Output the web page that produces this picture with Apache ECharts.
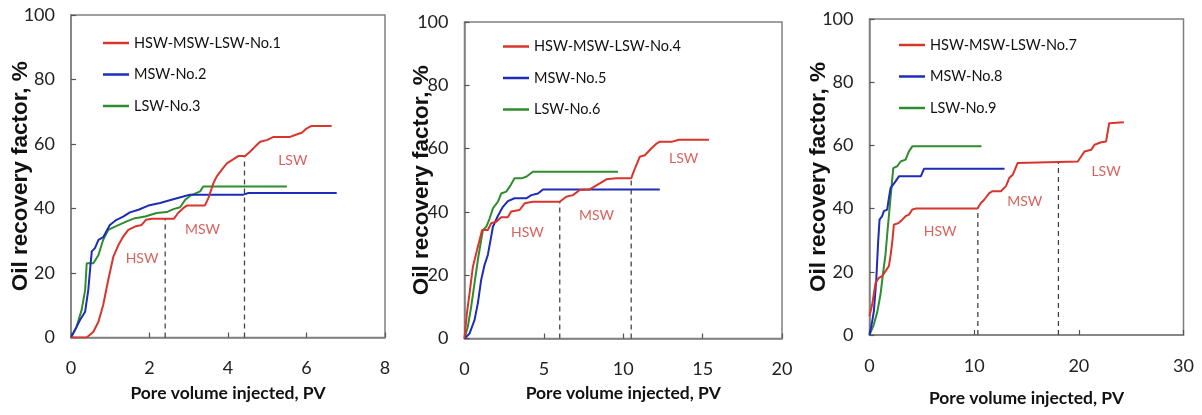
<!DOCTYPE html>
<html>
<head>
<meta charset="utf-8">
<script src="https://cdn.jsdelivr.net/npm/echarts@6/dist/echarts.min.js"></script>
<style>
  html, body { margin: 0; padding: 0; background: #fff; }
  #chart { width: 1202px; height: 415px; }
</style>
</head>
<body>
<div id="chart"></div>
<script>
// Oil recovery factor (%) vs pore volume injected (PV), three core-flood sets
const seriesNames = [
  ['HSW-MSW-LSW-No.1', 'MSW-No.2', 'LSW-No.3'],
  ['HSW-MSW-LSW-No.4', 'MSW-No.5', 'LSW-No.6'],
  ['HSW-MSW-LSW-No.7', 'MSW-No.8', 'LSW-No.9']
];

// [PV, recovery %]
const no1 = [[0,0],[0.4,0],[0.57,1.8],[0.7,4.9],[0.82,10.1],[0.95,17.9],[1.08,25.1],[1.21,28.7],[1.33,31.3],[1.46,33.4],[1.63,34.4],[1.8,34.9],[1.91,36.5],[2.06,36.8],[2.62,36.8],[2.73,38.6],[2.86,40.1],[2.95,40.9],[3.41,40.9],[3.5,43.2],[3.63,47.9],[3.71,49.9],[3.84,52],[3.97,54],[4.14,55.3],[4.27,56.3],[4.44,56.3],[4.56,57.6],[4.69,59.2],[4.82,60.7],[4.99,61.2],[5.16,62.2],[5.58,62.2],[5.71,62.8],[5.88,63.5],[6.0,64.8],[6.13,65.6],[6.64,65.6]];
const no2 = [[0,0],[0.1,2.3],[0.23,5.4],[0.36,8],[0.44,14.7],[0.5,23],[0.53,26.7],[0.61,27.7],[0.7,30.3],[0.82,31.1],[0.99,34.9],[1.16,36.5],[1.33,37.5],[1.5,38.8],[1.72,39.6],[1.97,40.9],[2.27,41.7],[2.56,42.7],[2.86,43.7],[3.03,44.3],[4.39,44.3],[4.52,44.8],[6.77,44.8]];
const no3 = [[0,0],[0.14,3.3],[0.27,8.5],[0.36,14.7],[0.4,23],[0.57,23],[0.7,25.6],[0.82,30.3],[0.95,33.4],[1.12,34.4],[1.42,36],[1.63,37],[1.89,37.5],[2.18,38.6],[2.44,38.9],[2.61,39.8],[2.78,40.4],[2.91,42.7],[3.03,43.9],[3.16,44.6],[3.29,45.3],[3.37,46.8],[5.5,46.8]];

const no4 = [[0,0],[0.15,7.9],[0.32,14.3],[0.53,22.7],[0.84,29],[1.11,34.3],[1.47,34.3],[1.68,36.4],[2.0,36.9],[2.31,38.3],[2.73,38.3],[2.94,40.1],[3.47,40.6],[3.79,42.7],[4.31,43.2],[6.0,43.2],[6.41,44.8],[6.83,45.3],[7.26,46.9],[7.89,47.1],[8.52,49],[8.94,50.3],[9.57,50.6],[10.5,50.6],[10.73,53.7],[11.04,57.4],[11.36,57.9],[11.78,60.1],[12.1,61.6],[12.3,62.2],[13.1,62.2],[13.5,62.8],[15.4,62.8]];
const no5 = [[0,0],[0.32,1.6],[0.63,5.8],[0.84,11.1],[1.05,18.5],[1.26,23.2],[1.47,26.4],[1.68,32.2],[1.79,35.3],[2.1,38.7],[2.42,41.6],[2.73,43.4],[3.15,44.3],[3.89,44.3],[4.21,45.3],[4.63,45.8],[4.94,47.1],[12.3,47.1]];
const no6 = [[0,0],[0.21,3.7],[0.42,10],[0.63,17.4],[0.84,24.8],[1.05,31.1],[1.16,34.3],[1.37,35.3],[1.58,37.9],[1.79,41.1],[2.1,43.2],[2.31,45.8],[2.63,46.4],[2.84,47.9],[3.15,50.6],[3.57,50.6],[3.89,51.1],[4.31,52.7],[9.67,52.7]];

const no7 = [[0,6],[0.26,9.7],[0.58,16.5],[0.89,18.1],[1.21,18.6],[1.53,20.2],[1.85,21.8],[2.0,24.9],[2.17,29.2],[2.33,34.9],[2.81,35.5],[3.13,36.5],[3.45,37.6],[3.77,38.1],[4.09,39.7],[4.41,40],[10.32,40],[10.64,41.8],[10.96,42.8],[11.44,44.9],[11.76,45.5],[12.56,45.5],[13.04,47.1],[13.36,49.7],[13.68,50.7],[14.15,54.4],[14.31,54.9],[19.9,54.9],[20.22,56.5],[20.55,58.1],[21.18,58.6],[21.5,60.2],[22.14,61],[22.6,61.2],[22.9,67],[24.3,67.3]];
const no8 = [[0,0],[0.26,4.4],[0.42,7.6],[0.64,17.1],[0.83,29.7],[0.96,36.5],[1.21,37.6],[1.37,39.2],[1.69,39.7],[1.79,42],[2.01,46.5],[2.17,47],[2.49,48.6],[2.81,50.2],[4.9,50.2],[5.21,52.6],[12.9,52.6]];
const no9 = [[0,0],[0.42,3.4],[0.73,7.1],[1.05,12.8],[1.28,19.2],[1.53,25.5],[1.69,31.8],[1.92,40.2],[2.11,47.1],[2.27,52.8],[2.65,53.4],[2.97,54.9],[3.45,55.5],[3.77,58.1],[4.09,59.7],[10.7,59.7]];

const panelData = [[no1, no2, no3], [no4, no5, no6], [no7, no8, no9]];

// Brine switch points (PV, recovery reached at the switch)
const switches = [
  [[2.4, 36.8], [4.42, 56.3]],
  [[6.0, 43.2], [10.5, 50.6]],
  [[10.35, 40], [18.05, 54.9]]
];

// Injection stage annotations
const stageNames = ['HSW', 'MSW', 'LSW'];
const stageSpots = [
  [[1.81, 24.5], [3.35, 33.4], [5.65, 55]],
  [[3.96, 33.4], [8.32, 39], [13.8, 56.9]],
  [[6.75, 32.7], [14.84, 42.4], [22.6, 51.8]]
];

// Axis ranges
const xMax = [8, 20, 30];
const xStep = [2, 5, 10];
const yMax = 100;
const yStep = 20;
const xTitle = 'Pore volume injected, PV';
const yTitle = 'Oil recovery factor, %';

const lineColors = ['#d8352c', '#1e2db8', '#2f8c2f'];
const stageColor = '#cf3a35';
const narrow = "Lato, 'Liberation Sans', sans-serif";
const boxColor = '#808080';

const grids = [
  { left: 71, top: 15, width: 314, height: 322.5 },
  { left: 464.5, top: 22, width: 317.5, height: 316.5 },
  { left: 869.5, top: 19, width: 314, height: 316 }
];
const xNameGap = [47, 46, 54];
const yNameGap = [39, 31, 39];
const legendPos = [
  { left: 103, top: 34 },
  { left: 503, top: 37.5 },
  { left: 899, top: 36 }
];

const option = {
  animation: false,
  backgroundColor: '#fff',
  grid: grids.map(g => Object.assign({ show: true, borderColor: boxColor, borderWidth: 1.5, backgroundColor: 'transparent' }, g)),
  xAxis: grids.map((g, i) => ({
    type: 'value', gridIndex: i, min: 0, max: xMax[i], interval: xStep[i],
    axisLine: { show: true, lineStyle: { color: boxColor, width: 1.5 } },
    axisTick: { show: true, inside: true, length: 5, lineStyle: { color: '#555', width: 1.2 } },
    splitLine: { show: false },
    axisLabel: { fontFamily: narrow, fontSize: 18, color: '#222', margin: 22 },
    name: xTitle, nameLocation: 'middle', nameGap: xNameGap[i], nameMoveOverlap: false,
    nameTextStyle: { fontFamily: narrow, fontSize: 17.5, fontWeight: 'bold', color: '#111' }
  })),
  yAxis: grids.map((g, i) => ({
    type: 'value', gridIndex: i, min: 0, max: yMax, interval: yStep,
    axisLine: { show: true, lineStyle: { color: boxColor, width: 1.5 } },
    axisTick: { show: true, inside: true, length: 5, lineStyle: { color: '#555', width: 1.2 } },
    splitLine: { show: false },
    axisLabel: { fontFamily: narrow, fontSize: 18, color: '#222', margin: 16 },
    name: yTitle, nameLocation: 'middle', nameGap: yNameGap[i], nameRotate: 90, nameMoveOverlap: false,
    nameTextStyle: { fontFamily: "'Liberation Sans', Arial, sans-serif", fontSize: 22.5, fontWeight: 'bold', color: '#111' }
  })),
  legend: seriesNames.map((names, i) => ({
    data: names, orient: 'vertical', left: legendPos[i].left, top: legendPos[i].top,
    padding: 0, itemGap: 13.5, itemWidth: 26, itemHeight: 2.5, icon: 'rect',
    selectedMode: false,
    textStyle: { fontFamily: narrow, fontSize: 14.5, lineHeight: 18, color: '#111' }
  })),
  series: []
};

panelData.forEach((runs, p) => {
  runs.forEach((pts, k) => {
    option.series.push({
      name: seriesNames[p][k], type: 'line', xAxisIndex: p, yAxisIndex: p,
      data: pts, showSymbol: false, symbol: 'none', smooth: false,
      color: lineColors[k], lineStyle: { color: lineColors[k], width: 2 }, z: 3 - k + 2
    });
  });
  switches[p].forEach(sw => {
    option.series.push({
      type: 'line', xAxisIndex: p, yAxisIndex: p, silent: true,
      data: [[sw[0], 0], [sw[0], sw[1]]], symbol: 'none',
      lineStyle: { color: '#444', width: 1.3, type: [5, 4] }, z: 1
    });
  });
  option.series.push({
    type: 'scatter', xAxisIndex: p, yAxisIndex: p, silent: true,
    symbolSize: 1, itemStyle: { color: 'rgba(0,0,0,0)' },
    data: stageSpots[p].map((s, j) => ({ value: s, name: stageNames[j] })),
    label: { show: true, position: 'inside', formatter: '{b}', fontFamily: narrow, fontSize: 14, color: stageColor }
  });
});

const chart = echarts.init(document.getElementById('chart'), null, { renderer: 'canvas' });
chart.setOption(option);
</script>
</body>
</html>
